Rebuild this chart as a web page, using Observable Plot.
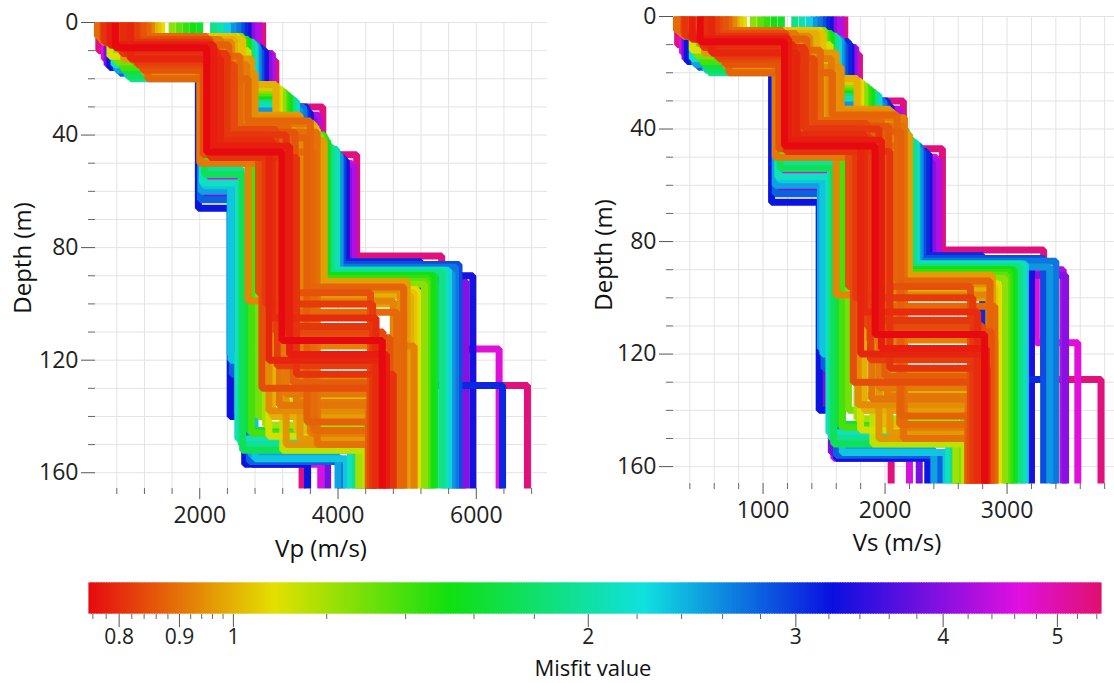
<!DOCTYPE html>
<html><head><meta charset="utf-8">
<script src="https://cdn.jsdelivr.net/npm/d3@7"></script>
<script src="https://cdn.jsdelivr.net/npm/@observablehq/plot@0.6"></script>
<style>
html,body{margin:0;padding:0;background:#fff;overflow:hidden;}
#root{position:relative;width:1114px;height:683px;font-family:"Open Sans",sans-serif;color:#111;overflow:hidden;}
.lbl{position:absolute;font-size:24px;white-space:nowrap;transform:translate(-50%,-50%);line-height:1;}
.rot{transform:translate(-50%,-50%) rotate(-90deg);}
</style></head><body><div id="root"></div>
<script>
// ---- model ensemble: misfit, layer interfaces (m), Vp and Vs per layer (m/s) ----
const misfit = [5.35,5.3,4.7,4.6,4.0,3.9,3.3,3.2,3.1,2.8,2.7,2.35,2.3,1.95,1.9,1.65,1.6,1.45,1.3,1.25,1.15,1.1,1.08,1.05,1.02,1.0,0.98,0.97,0.96,0.94,0.93,0.92,0.91,0.90,0.89,0.88,0.87,0.97,0.85,0.84,0.91,0.82,0.81,0.80,0.79,0.78,0.755,
  0.815,0.825,0.845,0.855,0.875,0.885,0.905,0.915,0.935,0.945,0.955,1.0,1.03,1.12,1.2,
  2.5,2.1,1.75,1.4,
  2.05,2.55,2.9,1.35,1.52,1.04,4.3];
const interfaces = [
 [13.6,30,47,83,129],[10,50,116,153],[12,33,50,88,116],[13,55,130,157],[11,34,52,92],[15,62,138,155],
 [10,32,49,90],[16,66,140,157],[9,30,48,85,129],[18,63,125,156],[9,30,46,87],[19,58,120,155],
 [8,28,45,88],[20,52,150],[7,27,44,89],[17,50,145],[6,26,42,90],[6,25,40,91],[14,48,140],
 [5,24,40,93],[8,44,152],[12,46,135],[5,23,38,95],[7,40,128],[11,38,145],[6,22,36,97],
 [9,36,100],[7,42,92],[13,33,148],[19,37,138],[10,45,99],[16,41,115],[8,50,132],[14,39,150],
 [5,46,145],[20,35,94],[11,43,128],[18,36,140],[9,47,96],[15,38,110],[6,45,135],[12,40,100],
 [7,48,125],[10,42,105],[13,44,120],[8,44,118],[9,46,113],
 [11,40,108],[14,43,122],[6,47,130],[17,39,112],[8,41,142],[12,37,103],[10,44,136],[15,36,146],
 [7,39,126],[18,34,95],[9,43,150],[13,41,140],[6,37,133],[10,35,147],[8,45,143],
 [17,60,118,154],[15,57,148],[19,54,152],[16,49,146],
 [7,29,45,88],[8,31,47,89],[10,31,48,86],[5,25,41,92],[6,26,41,90],[5,23,37,96],[11,33,51,90]
];
const vp = [
 [2910,3100,3780,4270,5500,6740],[540,2050,2460,2790,3480],[2800,3050,3700,4200,5600,6330],[620,2000,2520,2760,3750],
 [2750,3000,3650,4150,5850],[660,1990,2480,2700,3850],[2700,2950,3600,4120,5950],[700,1980,2440,2650,3560],
 [2650,2900,3550,4080,5200,6380],[850,2010,2470,2720,4050],[2550,2850,3500,4000,5700],[950,2060,2450,2800,4120],
 [2400,2800,3400,3950,5600],[1000,2100,2600,4250],[2200,2750,3350,3900,5500],[900,2080,2700,4350],
 [2000,2700,3300,3850,5400],[1800,2650,3250,3800,5300],[800,2120,2850,4400],[1600,2600,3200,3750,5250],
 [760,2250,3200,4400],[700,2150,3000,4440],[1450,2550,3150,3700,5150],[640,2350,3300,4440],
 [1000,2550,3400,4440],[1350,2500,3100,3650,5050],[1200,2450,3550,4950],[600,2300,3800,5000],
 [900,2750,3450,4440],[1300,2650,3000,4440],[1300,2200,2700,4800],[1150,2550,3150,5100],
 [750,2000,3250,4500],[1050,2450,3700,4500],[520,2100,3650,4450],[1250,2700,3600,4950],
 [950,2350,3350,4460],[1200,2600,3500,4600],[850,2050,2850,4470],[1100,2500,3100,4650],
 [560,2300,3400,4900],[1000,2400,2950,4500],[620,2150,3400,4800],[900,2250,3050,4550],
 [1000,2300,3000,4700],[700,2200,3300,4700],[780,2100,3190,4640],
 [880,2380,3250,4520],[1080,2280,3120,4580],[600,2150,2900,4480],[1180,2480,3380,4750],[700,2420,3550,4440],
 [960,2580,3280,4850],[840,2280,3150,4440],[1120,2680,3600,4440],[660,2460,3500,4500],[1220,2800,3450,4900],
 [800,2350,3250,4440],[980,2400,3050,4440],[1250,2620,3350,4440],[1380,2700,3000,4440],[750,2220,2950,4300],
 [800,2020,2440,2750,4000],[760,2040,2550,4180],[980,2070,2620,4300],[880,2090,2750,4380],
 [2300,2780,3380,3980,5550],[2480,2830,3450,4030,5650],[2600,2880,3520,4060,5750],[1700,2620,3220,3780,5280],
 [1900,2680,3280,3820,5350],[1400,2520,3120,3680,5100],[2850,3050,3720,4230,5800]
];
const vs = [
 [1670,1790,2150,2470,3300,3770],[300,1120,1480,1620,2050],[1600,1760,2100,2420,3240,3580],[340,1090,1500,1580,2200],
 [1580,1740,2080,2390,3480],[360,1080,1490,1560,2280],[1550,1720,2050,2360,3200],[380,1070,1460,1600,2350],
 [1520,1700,2020,2340,2800,3380],[470,1100,1500,1600,2450],[1460,1650,1990,2290,3400],[530,1130,1490,1650,2500],
 [1380,1620,1950,2260,3150],[560,1150,1560,2560],[1260,1590,1920,2230,3100],[510,1140,1620,2600],
 [1150,1560,1890,2200,3060],[1030,1530,1860,2170,3020],[460,1160,1700,2640],[920,1500,1830,2140,2980],
 [440,1240,1900,2650],[420,1180,1790,2680],[840,1470,1800,2120,2930],[390,1300,1980,2680],
 [580,1450,2000,2680],[780,1440,1770,2090,2880],[690,1390,2050,2880],[350,1280,2200,2880],
 [520,1600,2040,2680],[760,1540,1780,2680],[740,1220,1600,2850],[660,1450,1870,2900],
 [440,1100,1950,2700],[610,1380,2150,2700],[290,1160,2120,2690],[720,1570,2100,2860],
 [560,1300,2000,2700],[700,1500,2080,2760],[500,1130,1700,2700],[640,1420,1850,2800],
 [320,1270,2020,2850],[580,1350,1760,2720],[360,1190,2040,2840],[530,1250,1830,2760],
 [580,1280,1800,2820],[420,1210,1970,2830],[484,1176,1918,2816],
 [510,1340,1950,2740],[620,1270,1880,2780],[350,1190,1740,2700],[690,1400,2030,2870],[410,1360,2130,2680],
 [560,1470,1970,2900],[490,1260,1890,2680],[650,1560,2160,2680],[390,1380,2100,2700],[710,1640,2070,2860],
 [470,1310,1950,2680],[570,1340,1830,2680],[720,1490,2010,2680],[800,1550,1800,2680],[430,1230,1770,2580],
 [440,1100,1470,1650,2400],[420,1120,1540,2520],[550,1140,1580,2580],[500,1150,1650,2630],
 [1320,1600,1930,2250,3130],[1420,1640,1970,2280,3350],[1490,1670,2000,2310,3300],[980,1510,1840,2150,3000],
 [1090,1550,1880,2180,3040],[810,1450,1780,2100,2900],[1640,1760,2120,2440,3460]
];

// ---- axes ----
const depthMajor = [0,40,80,120,160];
const depthMinor = [10,20,30,50,60,70,90,100,110,130,140,150];
const depthGrid = [0,10,20,30,40,50,60,70,80,90,100,110,120,130,140,150,160];
const vpMajor = [2000,4000,6000];
const vpMinor = [800,1200,1600,2400,2800,3200,3600,4400,4800,5200,5600,6400,6800];
const vpGrid = [800,1200,1600,2000,2400,2800,3200,3600,4000,4400,4800,5200,5600,6000,6400,6800];
const vsMajor = [1000,2000,3000];
const vsMinor = [400,600,800,1200,1400,1600,1800,2200,2400,2600,2800,3200,3400,3600,3800];
const vsGrid = [400,600,800,1000,1200,1400,1600,1800,2000,2200,2400,2600,2800,3000,3200,3400,3600,3800];
const misfitMajor = [0.8,0.9,1,2,3,4,5];
const misfitMinor = [0.76,0.78,0.82,0.84,0.86,0.88,0.92,0.94,0.96,0.98,1.2,1.4,1.6,1.8,2.2,2.4,2.6,2.8,3.2,3.4,3.6,3.8,4.2,4.4,4.6,4.8,5.2,5.4];
const misfitRange = [0.755, 5.45];
const colorStops = [0.755, 1.084, 1.53, 2.24, 3.23, 4.65, 5.45];
const colorRange = ["#e60a10", "#e3e000", "#10e010", "#10e0e0", "#0a10e0", "#e010e0", "#e01070"];

const FONT = "'Open Sans', sans-serif";
const colorScale = {type: "log", domain: colorStops, range: colorRange};

function profilePoints(vel, maxDepth) {
  const order = d3.range(misfit.length).sort((a, b) => misfit[b] - misfit[a]);
  const pts = [];
  for (const i of order) {
    const d = interfaces[i], v = vel[i];
    let top = 0;
    for (let k = 0; k < v.length; k++) {
      const bottom = k < d.length ? d[k] : maxDepth;
      pts.push({id: i, misfit: misfit[i], v: v[k], d: top});
      pts.push({id: i, misfit: misfit[i], v: v[k], d: bottom});
      top = bottom;
    }
  }
  return pts;
}

function panel(o) {
  return Plot.plot({
    width: o.width, height: o.height,
    marginLeft: o.ml, marginRight: o.mr, marginTop: o.mt, marginBottom: o.mb,
    style: {fontFamily: FONT, fontSize: "23px", color: "#222", background: "transparent", overflow: "visible"},
    x: {domain: o.xDomain},
    y: {domain: [0, o.maxDepth], reverse: true},
    color: colorScale,
    marks: [
      Plot.gridX(o.xGrid, {stroke: "#e3e3e3", strokeOpacity: 1}),
      Plot.gridY(depthGrid, {stroke: "#e3e3e3", strokeOpacity: 1}),
      Plot.line(profilePoints(o.vel, o.maxDepth), {x: "v", y: "d", z: "id", stroke: "misfit", strokeWidth: 7, strokeLinejoin: "miter", strokeLinecap: "butt"}),
      Plot.axisY(depthMajor, {tickSize: 14, tickPadding: 3, label: null, tickFormat: d => String(d), stroke: "#555"}),
      Plot.axisY(depthMinor, {tickSize: 7, tickFormat: () => "", label: null, stroke: "#666"}),
      Plot.axisX(o.xMajor, {tickSize: 11, tickPadding: 7, label: null, tickFormat: d => String(d), stroke: "#555"}),
      Plot.axisX(o.xMinor, {tickSize: 6, tickFormat: () => "", label: null, stroke: "#666"})
    ]
  });
}

const root = document.getElementById("root");
function place(node, left, top) {
  node.style.position = "absolute"; node.style.left = left + "px"; node.style.top = top + "px";
  root.appendChild(node);
}
function label(text, x, y, rot, size) {
  const el = document.createElement("div");
  el.className = "lbl" + (rot ? " rot" : "");
  el.textContent = text;
  el.style.left = x + "px"; el.style.top = y + "px";
  if (size) el.style.fontSize = size + "px";
  root.appendChild(el);
}

place(panel({vel: vp, width: 560, height: 560, ml: 95, mr: 13, mt: 22, mb: 72, maxDepth: 165.6,
  xDomain: [492, 7030], xMajor: vpMajor, xMinor: vpMinor, xGrid: vpGrid}), 0, 0);
place(panel({vel: vs, width: 561, height: 560, ml: 113, mr: 0, mt: 16, mb: 77, maxDepth: 166,
  xDomain: [266, 3938], xMajor: vsMajor, xMinor: vsMinor, xGrid: vsGrid}), 560, 0);

// colour bar
const N = 400, lr = Math.log(misfitRange[1] / misfitRange[0]);
const ramp = d3.range(N).map(i => ({
  a: misfitRange[0] * Math.exp(lr * i / N),
  b: misfitRange[0] * Math.exp(lr * (i + 1) / N),
  m: misfitRange[0] * Math.exp(lr * (i + 0.5) / N)
}));
place(Plot.plot({
  width: 1114, height: 80, marginLeft: 89, marginRight: 13, marginTop: 13, marginBottom: 37,
  style: {fontFamily: FONT, fontSize: "21px", color: "#222", background: "transparent"},
  x: {type: "log", domain: misfitRange},
  color: colorScale,
  marks: [
    Plot.rect(ramp, {x1: "a", x2: "b", fill: "m", inset: -0.6}),
    Plot.axisX(misfitMajor, {tickSize: 13, tickPadding: 2, dy: 1, label: null, tickFormat: d => String(d), stroke: "#555"}),
    Plot.axisX(misfitMinor, {tickSize: 5, dy: 1, tickFormat: () => "", label: null, stroke: "#666"})
  ]
}), 0, 570);

label("Depth (m)", 22, 258, true);
label("Depth (m)", 603, 255, true);
label("Vp (m/s)", 321, 548);
label("Vs (m/s)", 897, 542);
label("Misfit value", 593, 667, false, 22);
</script></body></html>
